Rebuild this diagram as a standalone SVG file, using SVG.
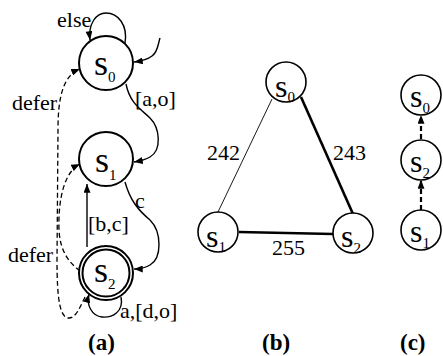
<svg xmlns="http://www.w3.org/2000/svg" width="443" height="356" viewBox="0 0 443 356">
<style>
text{font-family:'Liberation Serif','Times New Roman',serif;fill:#000}
.lbl{font-size:22px}
.cap{font-size:23px;font-weight:bold}
.sa{font-size:36px}
.sb{font-size:32px}
.sub{font-size:15px}
.na circle{fill:#fff;stroke:#000;stroke-width:2}
.nb circle{fill:#fff;stroke:#000;stroke-width:1.6}
.e{fill:none;stroke:#000;stroke-width:1.4}
.d{fill:none;stroke:#000;stroke-width:1.3;stroke-dasharray:5 3}
.dc{fill:none;stroke:#000;stroke-width:2.2;stroke-dasharray:5 3}
.thin{stroke:#000;stroke-width:0.9}
.thick{stroke:#000;stroke-width:2.6}
</style>
<defs>
<marker id="ah" viewBox="0 0 10 8" refX="10" refY="4" markerWidth="9" markerHeight="7" markerUnits="userSpaceOnUse" orient="auto"><path d="M0,0 L10,4 L0,8 z" fill="#000"/></marker>
</defs>
<g id="connectors">
<path class="e" d="M125,43 C128,25 118,13 106,13 C96,13 88,24 90,40" marker-end="url(#ah)"/>
<path class="e" d="M160,38 C158,44 158,52 152,56 C147,60 142,61 134,62" marker-end="url(#ah)"/>
<path class="e" d="M126,84 C130,104 142,110 150,118 C160,128 162,150 150,157 C145,160 140,161 134,162" marker-end="url(#ah)"/>
<path class="e" d="M125,182 C130,200 138,210 150,220 C162,232 162,258 150,265 C145,268 140,269 134,269" marker-end="url(#ah)"/>
<path class="e" d="M87,247 L87,184" marker-end="url(#ah)"/>
<path class="e" d="M121,297 C124,312 112,318 102,317 C92,316 86,305 89,294" marker-end="url(#ah)"/>
<path class="d" d="M85,297 C80,307 76,318 69,318 C60,318 57,300 57,260 L58,130 C58,100 62,76 80,69" marker-end="url(#ah)"/>
<path class="d" d="M80,271 C68,262 60,250 59,230 C58,200 64,172 80,164" marker-end="url(#ah)"/>
<line class="thin" x1="272" y1="99" x2="218" y2="212"/>
<line class="thick" x1="301" y1="97" x2="353" y2="214"/>
<line class="thick" x1="239" y1="232" x2="333" y2="234"/>
<path class="dc" d="M421,210 L421,180" marker-end="url(#ah)"/>
<path class="dc" d="M421,139 L421,115" marker-end="url(#ah)"/>
</g>
<g id="a-s0" class="na"><circle cx="106" cy="63" r="27"/><text class="sa" x="94" y="75">s<tspan class="sub" dy="7">0</tspan></text></g>
<g id="a-s1" class="na"><circle cx="106" cy="159" r="27"/><text class="sa" x="95" y="172">s<tspan class="sub" dy="8">1</tspan></text></g>
<g id="a-s2" class="na"><circle cx="106" cy="273" r="27"/><circle cx="106" cy="273" r="23.5"/><text class="sa" x="94" y="282">s<tspan class="sub" dy="7">2</tspan></text></g>
<g id="a-labels">
<text class="lbl" x="57" y="27">else</text>
<text class="lbl" x="135" y="106">[a,o]</text>
<text class="lbl" x="12" y="110">defer</text>
<text class="lbl" x="135" y="208">c</text>
<text class="lbl" x="88" y="231">[b,c]</text>
<text class="lbl" x="8" y="262">defer</text>
<text class="lbl" x="120" y="318">a,[d,o]</text>
</g>
<g id="b-s0" class="nb"><circle cx="286" cy="82" r="20"/><text class="sb" x="275" y="97">s<tspan class="sub" dy="5">0</tspan></text></g>
<g id="b-s1" class="nb"><circle cx="218" cy="232" r="20"/><text class="sb" x="206" y="247">s<tspan class="sub" dy="5">1</tspan></text></g>
<g id="b-s2" class="nb"><circle cx="353" cy="233" r="20"/><text class="sb" x="341" y="247">s<tspan class="sub" dy="6">2</tspan></text></g>
<g id="b-labels">
<text class="lbl" x="207" y="160">242</text>
<text class="lbl" x="333" y="160">243</text>
<text class="lbl" x="272" y="255">255</text>
</g>
<g id="c-s0" class="nb"><circle cx="421" cy="95" r="20"/><text class="sb" x="410" y="107">s<tspan class="sub" dy="6">0</tspan></text></g>
<g id="c-s2" class="nb"><circle cx="421" cy="160" r="20"/><text class="sb" x="410" y="172">s<tspan class="sub" dy="6">2</tspan></text></g>
<g id="c-s1" class="nb"><circle cx="421" cy="230" r="20"/><text class="sb" x="410" y="242">s<tspan class="sub" dy="6">1</tspan></text></g>
<g id="captions">
<text class="cap" x="88" y="350">(a)</text>
<text class="cap" x="262" y="350">(b)</text>
<text class="cap" x="400" y="350">(c)</text>
</g>
</svg>
